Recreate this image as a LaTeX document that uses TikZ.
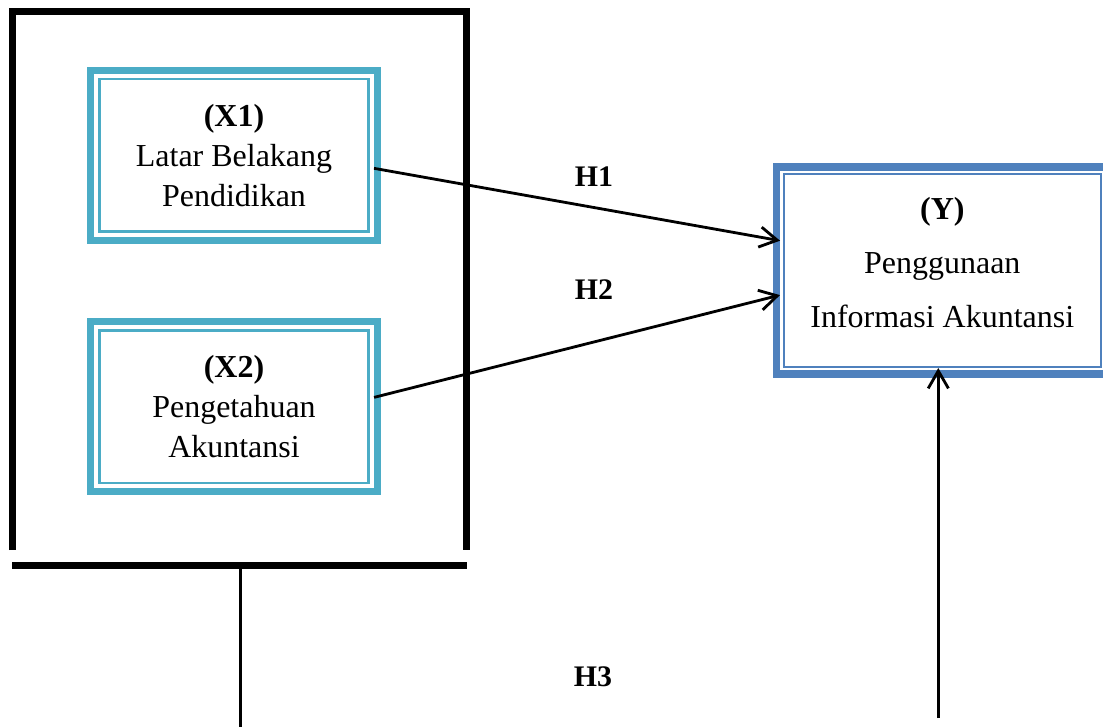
\documentclass[tikz,border=0pt]{standalone}
\usepackage{fontspec}
\setmainfont{Liberation Serif}
\usetikzlibrary{arrows.meta,positioning,calc}
\definecolor{tealband}{HTML}{4BACC6}
\definecolor{blueband}{HTML}{4F81BD}
\tikzset{
  xbox/.style={draw=tealband, line width=0.14cm, rectangle, align=center, inner sep=0pt, outer sep=0pt, minimum width=5.74cm, minimum height=3.41cm, font=\fontsize{18.2}{22.8}\selectfont},
  ybox/.style={draw=blueband, line width=0.15cm, rectangle, align=center, inner sep=0pt, outer sep=0pt, minimum width=6.63cm, minimum height=4.14cm, text depth=0.34cm, font=\fontsize{18.2}{30.7}\selectfont},
  xthin/.style={draw=tealband, line width=1.3pt},
  ythin/.style={draw=blueband, line width=1.3pt},
  hyp/.style={font=\fontsize{17}{20}\selectfont\bfseries, anchor=base, inner sep=0pt},
  frame/.style={line width=4pt},
  arr/.style={-{Straight Barb[length=10pt, width=11.5pt]}, line width=1.6pt},
}
\begin{document}
\begin{tikzpicture}[x=0.02cm, y=-0.02cm]
\useasboundingbox (0,0) rectangle (1103,727);
\clip (0,0) rectangle (1103,727);
% frame round the two variables
\draw[frame] (12.5,550) -- (12.5,11.5) -- (466.5,11.5) -- (466.5,550);
\draw[frame] (12,565.5) -- (467,565.5);
\coordinate (barmid) at (240.5,565.5);
\coordinate (stemend) at (240.5,727);
\draw[line width=1.6pt] (barmid) -- (stemend);
% variables
\node[xbox] (x1) at (234,155.3) {\textbf{(X1)}\\Latar Belakang\\Pendidikan};
\node[xbox, below=1.62cm of x1] (x2) {\textbf{(X2)}\\Pengetahuan\\Akuntansi};
\node[ybox] (y) at (942.3,270.5) {\textbf{(Y)}\\Penggunaan\\Informasi Akuntansi};
\foreach \n in {x1,x2} \draw[xthin] ([shift={(9,9)}]\n.north west) rectangle ([shift={(-9,-9)}]\n.south east);
\draw[ythin] ([shift={(7.3,7.3)}]y.north west) rectangle ([shift={(-7.3,-7.3)}]y.south east);
% hypotheses
\node[hyp] (h1) at (594,186) {H1};
\node[hyp] (h2) at (594,299.3) {H2};
\node[hyp] (h3) at (593,686.7) {H3};
\draw[arr, shorten <=-2pt, shorten >=-2pt] ($(x1.north east)!0.58!(x1.south east)$) -- ($(y.north west)!0.353!(y.south west)$);
\draw[arr, shorten <=-2pt, shorten >=-2pt] ($(x2.north east)!0.44!(x2.south east)$) -- ($(y.north west)!0.623!(y.south west)$);
\coordinate (a3) at (938.3,718);
\draw[arr, shorten >=-3.4pt] (a3) -- (a3 |- y.south);
\end{tikzpicture}
\end{document}
